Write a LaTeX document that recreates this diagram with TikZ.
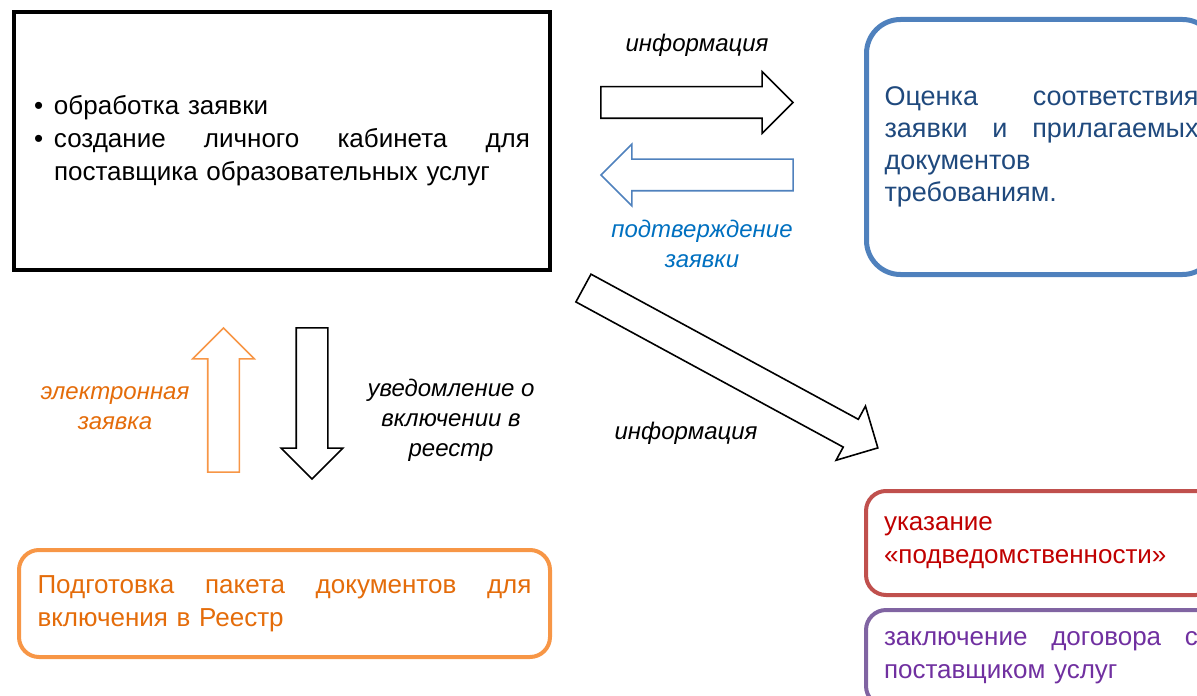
\documentclass[tikz,border=0pt]{standalone}
\usepackage{fontspec}
\setmainfont{Liberation Sans}
\usetikzlibrary{shapes.arrows,positioning}
\definecolor{boxblue}{RGB}{79,129,189}
\definecolor{textblue}{RGB}{31,73,125}
\definecolor{labelblue}{RGB}{0,112,192}
\definecolor{boxorange}{RGB}{247,150,70}
\definecolor{textorange}{RGB}{228,108,10}
\definecolor{boxred}{RGB}{192,80,77}
\definecolor{textred}{RGB}{192,0,0}
\definecolor{boxpurple}{RGB}{128,100,162}
\definecolor{textpurple}{RGB}{112,48,160}
\begin{document}
\begin{tikzpicture}[
    x=0.5pt,
    y=-0.5pt,
    every node/.style={font=\fontsize{13}{16.5}\selectfont},
    card/.style={draw, line width=2pt, rounded corners=10pt, inner sep=0pt,
        align=left, anchor=north west},
    blockarrow/.style={single arrow, draw, fill=white, line width=0.8pt,
        minimum width=30pt, single arrow head extend=7.5pt,
        single arrow head indent=0pt, inner xsep=0pt, inner ysep=7.5pt},
    flowlabel/.style={font=\fontsize{12}{15}\selectfont\itshape, align=center}
]
\useasboundingbox (0,0) rectangle (1197,695);
\clip (0,0) rectangle (1197,695);

% boxes
\node[card, sharp corners, minimum width=268pt, minimum height=129pt,
    text width=248pt] (request) at (12,10)
    {\makebox[10pt][l]{•}обработка заявки\\
     \makebox[10pt][l]{•}создание\hfill личного\hfill кабинета\hfill для\\
     \hspace*{10pt}поставщика образовательных услуг};
\node[card, draw=boxblue, line width=2.5pt, rounded corners=17pt,
    text=textblue, font=\fontsize{13.5}{16}\selectfont,
    minimum width=175pt, minimum height=127.5pt, text width=157pt]
    (check) at (864,17)
    {Оценка\hfill соответствия\\
     заявки\hfill и\hfill прилагаемых\\
     документов\\
     требованиям.};
\node[card, draw=boxred, text=textred, minimum width=175pt,
    minimum height=52pt, text width=157pt] (subord) at (864,489)
    {указание\\«подведомственности»};
\node[card, draw=boxpurple, text=textpurple, minimum width=175pt,
    minimum height=48pt, text width=157pt] (contract) at (864,608)
    {заключение\hfill договора\hfill с\\поставщиком услуг};
\node[card, draw=boxorange, text=textorange, minimum width=265.5pt,
    minimum height=53.5pt, text width=247pt] (package) at (17,548)
    {Подготовка\hfill пакета\hfill документов\hfill для\\включения в Реестр};

% arrows
\node[blockarrow, minimum height=96pt] (inforight) at (689,102.5) {};
\node[blockarrow, draw=boxblue, minimum height=96pt, rotate=180]
    (confirm) at (705,175) {};
\node[blockarrow, minimum height=167.5pt, rotate=-28.5]
    (infodiag) at (723.7,364.2) {};
\node[blockarrow, draw=boxorange, minimum height=72pt, rotate=90]
    (eapp) at (223.5,408) {};
\node[blockarrow, minimum height=75.5pt, rotate=-90]
    (notice) at (312,395.5) {};

% labels
\node[flowlabel] (inforightlbl) at (697,45) {информация};
\node[flowlabel, text=labelblue] (confirmlbl) at (702,244)
    {подтверждение\\заявки};
\node[flowlabel] (infodiaglbl) at (686,433) {информация};
\node[flowlabel, text=textorange] (eapplbl) at (115,408)
    {электронная\\заявка};
\node[flowlabel] (noticelbl) at (451,420)
    {уведомление о\\включении в\\реестр};
\end{tikzpicture}
\end{document}
